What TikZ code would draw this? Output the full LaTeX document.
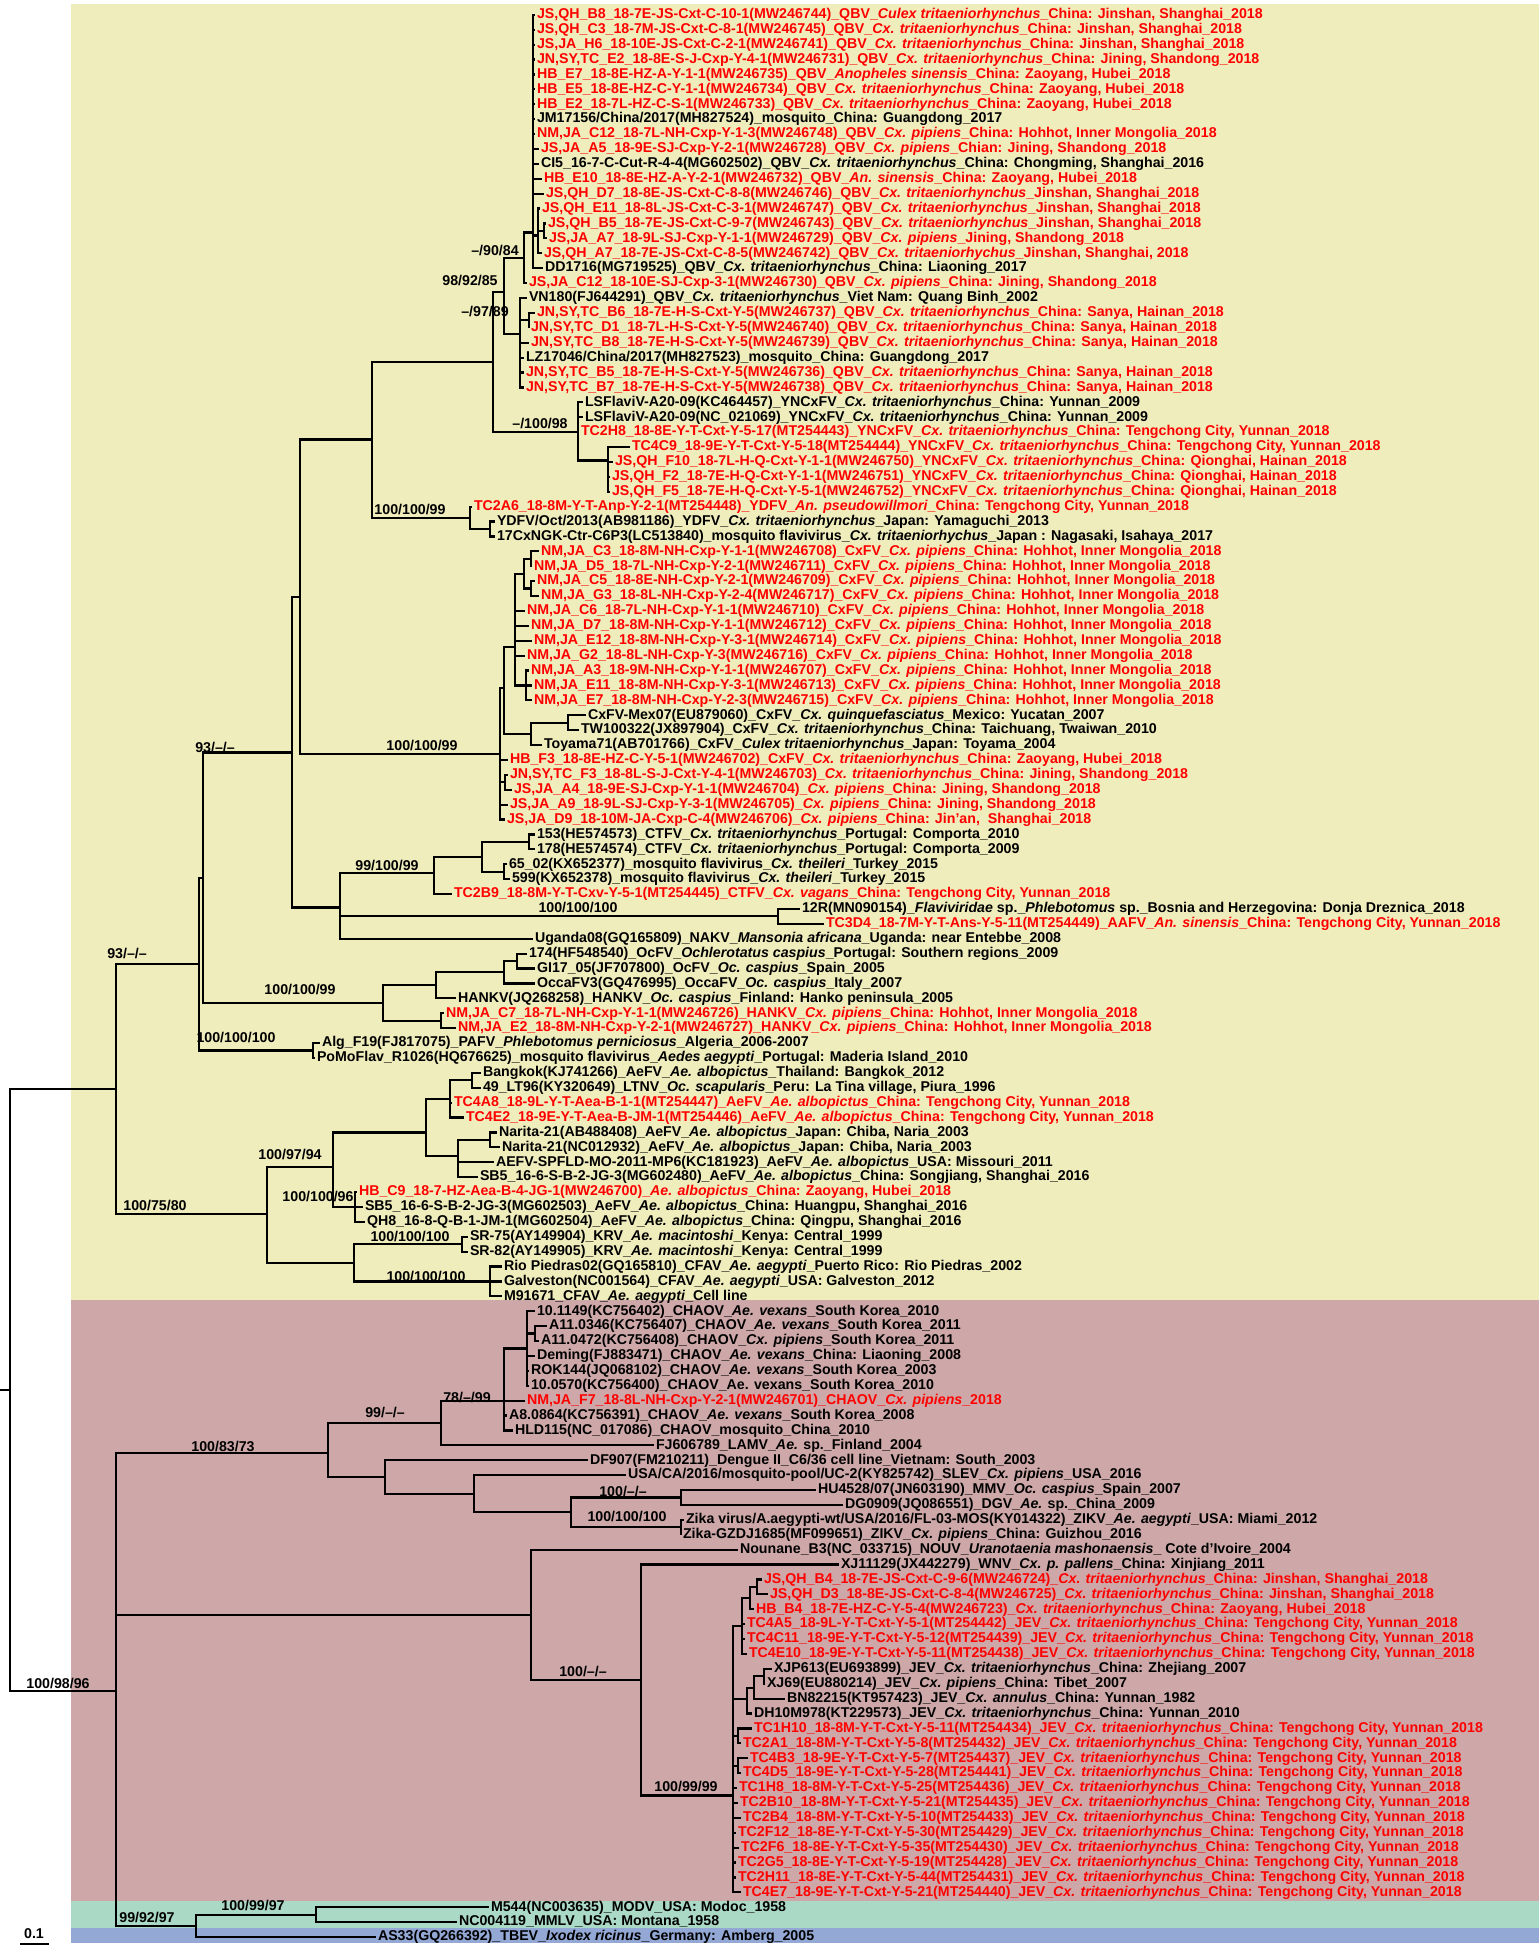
\documentclass[tikz,border=0pt]{standalone}
\usepackage{fontspec}
\setmainfont{Liberation Sans}
\definecolor{cladeY}{RGB}{240,237,189}
\definecolor{cladeP}{RGB}{206,168,168}
\definecolor{cladeG}{RGB}{170,218,198}
\definecolor{cladeB}{RGB}{148,168,214}
\definecolor{newred}{RGB}{255,0,0}
\newcommand\Ctri{\textit{Cx. tritaeniorhynchus}}
\newcommand\Cpip{\textit{Cx. pipiens}}
\newcommand\Aalb{\textit{Ae. albopictus}}
\newcommand\TCY{China: Tengchong City, Yunnan\_2018}
\newcommand\HIM{China: Hohhot, Inner Mongolia\_2018}
\tikzset{
  strain/.style={anchor=west,inner sep=0.8pt,text height=5.3pt,text depth=1.5pt,font=\fontsize{7.1}{8}\selectfont\bfseries},
  novel/.style={strain,text=newred},
  bs/.style={inner sep=0pt,font=\fontsize{7.1}{8}\selectfont\bfseries},
  br/.style={line width=1.1pt},
}
\begin{document}
\begin{tikzpicture}[x=0.5pt,y=-7.45pt]
\useasboundingbox (0,0) rectangle (1539,130.67);
\fill[cladeY] (71,0.28) rectangle (1539,87.25);
\fill[cladeP] (71,87.25) rectangle (1539,127.6);
\fill[cladeG] (71,127.6) rectangle (1539,129.4);
\fill[cladeB] (71,129.4) rectangle (1539,130.4);

\coordinate (rt0) at (0,93.3);
\coordinate (root) at (10,93.3);
\coordinate (A) at (116,73.1);
\coordinate (B) at (116,113.5);
\coordinate (A1) at (199,64.7);
\coordinate (A2) at (267,81.5);
\coordinate (U1) at (203,58.9);
\coordinate (pf) at (313,70.5);
\coordinate (U) at (292,50.5);
\coordinate (HK) at (383,67.3);
\coordinate (U2) at (300,40.05);
\coordinate (X) at (340,60.9);
\coordinate (V) at (372,29.5);
\coordinate (C0) at (500,50.6);
\coordinate (R) at (493,24.3);
\coordinate (YD) at (470,34.75);
\coordinate (Q) at (504,19.6);
\coordinate (yn) at (578,29);
\coordinate (Q1) at (524,17.3);
\coordinate (Q2) at (520,22.4);
\coordinate (Qa) at (533,15.6);
\coordinate (qt) at (538,15.8);
\coordinate (qs) at (544,15.5);
\coordinate (q21) at (529,21.5);
\coordinate (yn3) at (608,30.9);
\coordinate (ydp) at (490,35.5);
\coordinate (C1) at (504,46.2);
\coordinate (NMb) at (515,43.4);
\coordinate (NMa) at (524,38.5);
\coordinate (pr37) at (531,37.5);
\coordinate (pr39) at (531,39.5);
\coordinate (nm3) at (526,46);
\coordinate (MT) at (531,49.25);
\coordinate (pr48) at (568,48.5);
\coordinate (pr52) at (505,52.5);
\coordinate (ct) at (434,58.6);
\coordinate (ct1) at (482,57.5);
\coordinate (ct2) at (529,56.5);
\coordinate (ct3) at (504,58.5);
\coordinate (aa) at (778,61.5);
\coordinate (OH) at (436,66.1);
\coordinate (O2) at (504,65.25);
\coordinate (O1) at (517,64.5);
\coordinate (pr68) at (441,68.5);
\coordinate (ae) at (333,78.3);
\coordinate (ae1) at (426,76);
\coordinate (P1) at (450,73.75);
\coordinate (bl) at (472,72.5);
\coordinate (ae4) at (458,77.6);
\coordinate (nar) at (490,76.5);
\coordinate (q96) at (355,81);
\coordinate (KC) at (354,84.75);
\coordinate (sr) at (462,83.5);
\coordinate (cf) at (490,86);
\coordinate (P) at (328,97.5);
\coordinate (L) at (441,95.5);
\coordinate (ch) at (504,94);
\coordinate (c2) at (527,90.5);
\coordinate (c89) at (535,89.5);
\coordinate (D) at (385,99.1);
\coordinate (sl) at (474,100.25);
\coordinate (mz) at (571,101.5);
\coordinate (md) at (681,100.5);
\coordinate (zk) at (681,102.5);
\coordinate (nj) at (531,108.4);
\coordinate (j2) at (641,112.75);
\coordinate (jv) at (733,120.5);
\coordinate (jt) at (742,109.1);
\coordinate (jsb) at (750,107.25);
\coordinate (jsa) at (757,106.5);
\coordinate (xc) at (747,114);
\coordinate (xb) at (754,113.3);
\coordinate (xa) at (764,112.5);
\coordinate (p1) at (738,116.5);
\coordinate (p2) at (738,118.5);
\coordinate (gb) at (196,129.25);
\coordinate (gr) at (316,128.5);

\node[novel] (l1) at (535,1) {JS,QH\_B8\_18-7E-JS-Cxt-C-10-1(MW246744)\_QBV\_\textit{Culex tritaeniorhynchus}\_China: Jinshan, Shanghai\_2018};
\node[novel] (l2) at (535,2) {JS,QH\_C3\_18-7M-JS-Cxt-C-8-1(MW246745)\_QBV\_\Ctri\_China: Jinshan, Shanghai\_2018};
\node[novel] (l3) at (535,3) {JS,JA\_H6\_18-10E-JS-Cxt-C-2-1(MW246741)\_QBV\_\Ctri\_China: Jinshan, Shanghai\_2018};
\node[novel] (l4) at (535,4) {JN,SY,TC\_E2\_18-8E-S-J-Cxp-Y-4-1(MW246731)\_QBV\_\Ctri\_China: Jining, Shandong\_2018};
\node[novel] (l5) at (535,5) {HB\_E7\_18-8E-HZ-A-Y-1-1(MW246735)\_QBV\_\textit{Anopheles sinensis}\_China: Zaoyang, Hubei\_2018};
\node[novel] (l6) at (535,6) {HB\_E5\_18-8E-HZ-C-Y-1-1(MW246734)\_QBV\_\Ctri\_China: Zaoyang, Hubei\_2018};
\node[novel] (l7) at (535,7) {HB\_E2\_18-7L-HZ-C-S-1(MW246733)\_QBV\_\Ctri\_China: Zaoyang, Hubei\_2018};
\node[strain] (l8) at (535,8) {JM17156/China/2017(MH827524)\_mosquito\_China: Guangdong\_2017};
\node[novel] (l9) at (535,9) {NM,JA\_C12\_18-7L-NH-Cxp-Y-1-3(MW246748)\_QBV\_\Cpip\_China: Hohhot, Inner Mongolia\_2018};
\node[novel] (l10) at (539,10) {JS,JA\_A5\_18-9E-SJ-Cxp-Y-2-1(MW246728)\_QBV\_\Cpip\_Chian: Jining, Shandong\_2018};
\node[strain] (l11) at (539,11) {CI5\_16-7-C-Cut-R-4-4(MG602502)\_QBV\_\Ctri\_China: Chongming, Shanghai\_2016};
\node[novel] (l12) at (542,12) {HB\_E10\_18-8E-HZ-A-Y-2-1(MW246732)\_QBV\_\textit{An. sinensis}\_China: Zaoyang, Hubei\_2018};
\node[novel] (l13) at (544,13) {JS,QH\_D7\_18-8E-JS-Cxt-C-8-8(MW246746)\_QBV\_\Ctri\_Jinshan, Shanghai\_2018};
\node[novel] (l14) at (540,14) {JS,QH\_E11\_18-8L-JS-Cxt-C-3-1(MW246747)\_QBV\_\Ctri\_Jinshan, Shanghai\_2018};
\node[novel] (l15) at (546,15) {JS,QH\_B5\_18-7E-JS-Cxt-C-9-7(MW246743)\_QBV\_\Ctri\_Jinshan, Shanghai\_2018};
\node[novel] (l16) at (547,16) {JS,JA\_A7\_18-9L-SJ-Cxp-Y-1-1(MW246729)\_QBV\_\Cpip\_Jining, Shandong\_2018};
\node[novel] (l17) at (542,17) {JS,QH\_A7\_18-7E-JS-Cxt-C-8-5(MW246742)\_QBV\_\textit{Cx. tritaeniorhychus}\_Jinshan, Shanghai, 2018};
\node[strain] (l18) at (543,18) {DD1716(MG719525)\_QBV\_\Ctri\_China: Liaoning\_2017};
\node[novel] (l19) at (527,19) {JS,JA\_C12\_18-10E-SJ-Cxp-3-1(MW246730)\_QBV\_\Cpip\_China: Jining, Shandong\_2018};
\node[strain] (l20) at (527,20) {VN180(FJ644291)\_QBV\_\Ctri\_Viet Nam: Quang Binh\_2002};
\node[novel] (l21) at (535,21) {JN,SY,TC\_B6\_18-7E-H-S-Cxt-Y-5(MW246737)\_QBV\_\Ctri\_China: Sanya, Hainan\_2018};
\node[novel] (l22) at (529,22) {JN,SY,TC\_D1\_18-7L-H-S-Cxt-Y-5(MW246740)\_QBV\_\Ctri\_China: Sanya, Hainan\_2018};
\node[novel] (l23) at (529,23) {JN,SY,TC\_B8\_18-7E-H-S-Cxt-Y-5(MW246739)\_QBV\_\Ctri\_China: Sanya, Hainan\_2018};
\node[strain] (l24) at (524,24) {LZ17046/China/2017(MH827523)\_mosquito\_China: Guangdong\_2017};
\node[novel] (l25) at (524,25) {JN,SY,TC\_B5\_18-7E-H-S-Cxt-Y-5(MW246736)\_QBV\_\Ctri\_China: Sanya, Hainan\_2018};
\node[novel] (l26) at (524,26) {JN,SY,TC\_B7\_18-7E-H-S-Cxt-Y-5(MW246738)\_QBV\_\Ctri\_China: Sanya, Hainan\_2018};
\node[strain] (l27) at (583,27) {LSFlaviV-A20-09(KC464457)\_YNCxFV\_\Ctri\_China: Yunnan\_2009};
\node[strain] (l28) at (583,28) {LSFlaviV-A20-09(NC\_021069)\_YNCxFV\_\Ctri\_China: Yunnan\_2009};
\node[novel] (l29) at (579,29) {TC2H8\_18-8E-Y-T-Cxt-Y-5-17(MT254443)\_YNCxFV\_\Ctri\_\TCY};
\node[novel] (l30) at (630,30) {TC4C9\_18-9E-Y-T-Cxt-Y-5-18(MT254444)\_YNCxFV\_\Ctri\_\TCY};
\node[novel] (l31) at (613,31) {JS,QH\_F10\_18-7L-H-Q-Cxt-Y-1-1(MW246750)\_YNCxFV\_\Ctri\_China: Qionghai, Hainan\_2018};
\node[novel] (l32) at (610,32) {JS,QH\_F2\_18-7E-H-Q-Cxt-Y-1-1(MW246751)\_YNCxFV\_\Ctri\_China: Qionghai, Hainan\_2018};
\node[novel] (l33) at (610,33) {JS,QH\_F5\_18-7E-H-Q-Cxt-Y-5-1(MW246752)\_YNCxFV\_\Ctri\_China: Qionghai, Hainan\_2018};
\node[novel] (l34) at (472,34) {TC2A6\_18-8M-Y-T-Anp-Y-2-1(MT254448)\_YDFV\_\textit{An. pseudowillmori}\_\TCY};
\node[strain] (l35) at (495,35) {YDFV/Oct/2013(AB981186)\_YDFV\_\Ctri\_Japan: Yamaguchi\_2013};
\node[strain] (l36) at (495,36) {17CxNGK-Ctr-C6P3(LC513840)\_mosquito flavivirus\_\textit{Cx. tritaeniorhychus}\_Japan : Nagasaki, Isahaya\_2017};
\node[novel] (l37) at (539,37) {NM,JA\_C3\_18-8M-NH-Cxp-Y-1-1(MW246708)\_CxFV\_\Cpip\_\HIM};
\node[novel] (l38) at (532,38) {NM,JA\_D5\_18-7L-NH-Cxp-Y-2-1(MW246711)\_CxFV\_\Cpip\_\HIM};
\node[novel] (l39) at (535,39) {NM,JA\_C5\_18-8E-NH-Cxp-Y-2-1(MW246709)\_CxFV\_\Cpip\_\HIM};
\node[novel] (l40) at (539,40) {NM,JA\_G3\_18-8L-NH-Cxp-Y-2-4(MW246717)\_CxFV\_\Cpip\_\HIM};
\node[novel] (l41) at (525,41) {NM,JA\_C6\_18-7L-NH-Cxp-Y-1-1(MW246710)\_CxFV\_\Cpip\_\HIM};
\node[novel] (l42) at (529,42) {NM,JA\_D7\_18-8M-NH-Cxp-Y-1-1(MW246712)\_CxFV\_\Cpip\_\HIM};
\node[novel] (l43) at (532,43) {NM,JA\_E12\_18-8M-NH-Cxp-Y-3-1(MW246714)\_CxFV\_\Cpip\_\HIM};
\node[novel] (l44) at (525,44) {NM,JA\_G2\_18-8L-NH-Cxp-Y-3(MW246716)\_CxFV\_\Cpip\_\HIM};
\node[novel] (l45) at (529,45) {NM,JA\_A3\_18-9M-NH-Cxp-Y-1-1(MW246707)\_CxFV\_\Cpip\_\HIM};
\node[novel] (l46) at (532,46) {NM,JA\_E11\_18-8M-NH-Cxp-Y-3-1(MW246713)\_CxFV\_\Cpip\_\HIM};
\node[novel] (l47) at (532,47) {NM,JA\_E7\_18-8M-NH-Cxp-Y-2-3(MW246715)\_CxFV\_\Cpip\_\HIM};
\node[strain] (l48) at (586,48) {CxFV-Mex07(EU879060)\_CxFV\_\textit{Cx. quinquefasciatus}\_Mexico: Yucatan\_2007};
\node[strain] (l49) at (579,49) {TW100322(JX897904)\_CxFV\_\Ctri\_China: Taichuang, Twaiwan\_2010};
\node[strain] (l50) at (542,50) {Toyama71(AB701766)\_CxFV\_\textit{Culex tritaeniorhynchus}\_Japan: Toyama\_2004};
\node[novel] (l51) at (508,51) {HB\_F3\_18-8E-HZ-C-Y-5-1(MW246702)\_CxFV\_\Ctri\_China: Zaoyang, Hubei\_2018};
\node[novel] (l52) at (508,52) {JN,SY,TC\_F3\_18-8L-S-J-Cxt-Y-4-1(MW246703)\_\Ctri\_China: Jining, Shandong\_2018};
\node[novel] (l53) at (512,53) {JS,JA\_A4\_18-9E-SJ-Cxp-Y-1-1(MW246704)\_\Cpip\_China: Jining, Shandong\_2018};
\node[novel] (l54) at (508,54) {JS,JA\_A9\_18-9L-SJ-Cxp-Y-3-1(MW246705)\_\Cpip\_China: Jining, Shandong\_2018};
\node[novel] (l55) at (505,55) {JS,JA\_D9\_18-10M-JA-Cxp-C-4(MW246706)\_\Cpip\_China: Jin'an,\ \ Shanghai\_2018};
\node[strain] (l56) at (535,56) {153(HE574573)\_CTFV\_\Ctri\_Portugal: Comporta\_2010};
\node[strain] (l57) at (535,57) {178(HE574574)\_CTFV\_\Ctri\_Portugal: Comporta\_2009};
\node[strain] (l58) at (507,58) {65\_02(KX652377)\_mosquito flavivirus\_\textit{Cx. theileri}\_Turkey\_2015};
\node[strain] (l59) at (510,59) {599(KX652378)\_mosquito flavivirus\_\textit{Cx. theileri}\_Turkey\_2015};
\node[novel] (l60) at (452,60) {TC2B9\_18-8M-Y-T-Cxv-Y-5-1(MT254445)\_CTFV\_\textit{Cx. vagans}\_\TCY};
\node[strain] (l61) at (800,61) {12R(MN090154)\_\textit{Flaviviridae} sp.\_\textit{Phlebotomus} sp.\_Bosnia and Herzegovina: Donja Dreznica\_2018};
\node[novel] (l62) at (824,62) {TC3D4\_18-7M-Y-T-Ans-Y-5-11(MT254449)\_AAFV\_\textit{An. sinensis}\_\TCY};
\node[strain] (l63) at (533,63) {Uganda08(GQ165809)\_NAKV\_\textit{Mansonia africana}\_Uganda: near Entebbe\_2008};
\node[strain] (l64) at (527,64) {174(HF548540)\_OcFV\_\textit{Ochlerotatus caspius}\_Portugal: Southern regions\_2009};
\node[strain] (l65) at (535,65) {GI17\_05(JF707800)\_OcFV\_\textit{Oc. caspius}\_Spain\_2005};
\node[strain] (l66) at (535,66) {OccaFV3(GQ476995)\_OccaFV\_\textit{Oc. caspius}\_Italy\_2007};
\node[strain] (l67) at (456,67) {HANKV(JQ268258)\_HANKV\_\textit{Oc. caspius}\_Finland: Hanko peninsula\_2005};
\node[novel] (l68) at (444,68) {NM,JA\_C7\_18-7L-NH-Cxp-Y-1-1(MW246726)\_HANKV\_\Cpip\_\HIM};
\node[novel] (l69) at (456,69) {NM,JA\_E2\_18-8M-NH-Cxp-Y-2-1(MW246727)\_HANKV\_\Cpip\_\HIM};
\node[strain] (l70) at (320,70) {Alg\_F19(FJ817075)\_PAFV\_\textit{Phlebotomus perniciosus}\_Algeria\_2006-2007};
\node[strain] (l71) at (315,71) {PoMoFlav\_R1026(HQ676625)\_mosquito flavivirus\_\textit{Aedes aegypti}\_Portugal: Maderia Island\_2010};
\node[strain] (l72) at (481,72) {Bangkok(KJ741266)\_AeFV\_\Aalb\_Thailand: Bangkok\_2012};
\node[strain] (l73) at (481,73) {49\_LT96(KY320649)\_LTNV\_\textit{Oc. scapularis}\_Peru: La Tina village, Piura\_1996};
\node[novel] (l74) at (452,74) {TC4A8\_18-9L-Y-T-Aea-B-1-1(MT254447)\_AeFV\_\Aalb\_\TCY};
\node[novel] (l75) at (464,75) {TC4E2\_18-9E-Y-T-Aea-B-JM-1(MT254446)\_AeFV\_\Aalb\_\TCY};
\node[strain] (l76) at (497,76) {Narita-21(AB488408)\_AeFV\_\Aalb\_Japan: Chiba, Naria\_2003};
\node[strain] (l77) at (500,77) {Narita-21(NC012932)\_AeFV\_\Aalb\_Japan: Chiba, Naria\_2003};
\node[strain] (l78) at (494,78) {AEFV-SPFLD-MO-2011-MP6(KC181923)\_AeFV\_\Aalb\_USA: Missouri\_2011};
\node[strain] (l79) at (478,79) {SB5\_16-6-S-B-2-JG-3(MG602480)\_AeFV\_\Aalb\_China: Songjiang, Shanghai\_2016};
\node[novel] (l80) at (357,80) {HB\_C9\_18-7-HZ-Aea-B-4-JG-1(MW246700)\_\Aalb\_China: Zaoyang, Hubei\_2018};
\node[strain] (l81) at (363,81) {SB5\_16-6-S-B-2-JG-3(MG602503)\_AeFV\_\Aalb\_China: Huangpu, Shanghai\_2016};
\node[strain] (l82) at (365,82) {QH8\_16-8-Q-B-1-JM-1(MG602504)\_AeFV\_\Aalb\_China: Qingpu, Shanghai\_2016};
\node[strain] (l83) at (468,83) {SR-75(AY149904)\_KRV\_\textit{Ae. macintoshi}\_Kenya: Central\_1999};
\node[strain] (l84) at (468,84) {SR-82(AY149905)\_KRV\_\textit{Ae. macintoshi}\_Kenya: Central\_1999};
\node[strain] (l85) at (502,85) {Rio Piedras02(GQ165810)\_CFAV\_\textit{Ae. aegypti}\_Puerto Rico: Rio Piedras\_2002};
\node[strain] (l86) at (502,86) {Galveston(NC001564)\_CFAV\_\textit{Ae. aegypti}\_USA: Galveston\_2012};
\node[strain] (l87) at (502,87) {M91671\_CFAV\_\textit{Ae. aegypti}\_Cell line};
\node[strain] (l88) at (535,88) {10.1149(KC756402)\_CHAOV\_\textit{Ae. vexans}\_South Korea\_2010};
\node[strain] (l89) at (547,89) {A11.0346(KC756407)\_CHAOV\_\textit{Ae. vexans}\_South Korea\_2011};
\node[strain] (l90) at (539,90) {A11.0472(KC756408)\_CHAOV\_\Cpip\_South Korea\_2011};
\node[strain] (l91) at (535,91) {Deming(FJ883471)\_CHAOV\_\textit{Ae. vexans}\_China: Liaoning\_2008};
\node[strain] (l92) at (529,92) {ROK144(JQ068102)\_CHAOV\_\textit{Ae. vexans}\_South Korea\_2003};
\node[strain] (l93) at (529,93) {10.0570(KC756400)\_CHAOV\_Ae. vexans\_South Korea\_2010};
\node[novel] (l94) at (525,94) {NM,JA\_F7\_18-8L-NH-Cxp-Y-2-1(MW246701)\_CHAOV\_\Cpip\_2018};
\node[strain] (l95) at (507,95) {A8.0864(KC756391)\_CHAOV\_\textit{Ae. vexans}\_South Korea\_2008};
\node[strain] (l96) at (513,96) {HLD115(NC\_017086)\_CHAOV\_mosquito\_China\_2010};
\node[strain] (l97) at (654,97) {FJ606789\_LAMV\_\textit{Ae.} sp.\_Finland\_2004};
\node[strain] (l98) at (588,98) {DF907(FM210211)\_Dengue II\_C6/36 cell line\_Vietnam: South\_2003};
\node[strain] (l99) at (626,99) {USA/CA/2016/mosquito-pool/UC-2(KY825742)\_SLEV\_\Cpip\_USA\_2016};
\node[strain] (l100) at (816,100) {HU4528/07(JN603190)\_MMV\_\textit{Oc. caspius}\_Spain\_2007};
\node[strain] (l101) at (843,101) {DG0909(JQ086551)\_DGV\_\textit{Ae.} sp.\_China\_2009};
\node[strain] (l102) at (684,102) {Zika virus/A.aegypti-wt/USA/2016/FL-03-MOS(KY014322)\_ZIKV\_\textit{Ae. aegypti}\_USA: Miami\_2012};
\node[strain] (l103) at (681,103) {Zika-GZDJ1685(MF099651)\_ZIKV\_\Cpip\_China: Guizhou\_2016};
\node[strain] (l104) at (738,104) {Nounane\_B3(NC\_033715)\_NOUV\_\textit{Uranotaenia mashonaensis}\_ Cote d'Ivoire\_2004};
\node[strain] (l105) at (839,105) {XJ11129(JX442279)\_WNV\_\textit{Cx. p. pallens}\_China: Xinjiang\_2011};
\node[novel] (l106) at (762,106) {JS,QH\_B4\_18-7E-JS-Cxt-C-9-6(MW246724)\_\Ctri\_China: Jinshan, Shanghai\_2018};
\node[novel] (l107) at (768,107) {JS,QH\_D3\_18-8E-JS-Cxt-C-8-4(MW246725)\_\Ctri\_China: Jinshan, Shanghai\_2018};
\node[novel] (l108) at (754,108) {HB\_B4\_18-7E-HZ-C-Y-5-4(MW246723)\_\Ctri\_China: Zaoyang, Hubei\_2018};
\node[novel] (l109) at (745,109) {TC4A5\_18-9L-Y-T-Cxt-Y-5-1(MT254442)\_JEV\_\Ctri\_\TCY};
\node[novel] (l110) at (745,110) {TC4C11\_18-9E-Y-T-Cxt-Y-5-12(MT254439)\_JEV\_\Ctri\_\TCY};
\node[novel] (l111) at (747,111) {TC4E10\_18-9E-Y-T-Cxt-Y-5-11(MT254438)\_JEV\_\Ctri\_\TCY};
\node[strain] (l112) at (772,112) {XJP613(EU693899)\_JEV\_\Ctri\_China: Zhejiang\_2007};
\node[strain] (l113) at (765,113) {XJ69(EU880214)\_JEV\_\Cpip\_China: Tibet\_2007};
\node[strain] (l114) at (785,114) {BN82215(KT957423)\_JEV\_\textit{Cx. annulus}\_China: Yunnan\_1982};
\node[strain] (l115) at (752,115) {DH10M978(KT229573)\_JEV\_\Ctri\_China: Yunnan\_2010};
\node[novel] (l116) at (752,116) {TC1H10\_18-8M-Y-T-Cxt-Y-5-11(MT254434)\_JEV\_\Ctri\_\TCY};
\node[novel] (l117) at (741,117) {TC2A1\_18-8M-Y-T-Cxt-Y-5-8(MT254432)\_JEV\_\Ctri\_\TCY};
\node[novel] (l118) at (748,118) {TC4B3\_18-9E-Y-T-Cxt-Y-5-7(MT254437)\_JEV\_\Ctri\_\TCY};
\node[novel] (l119) at (741,119) {TC4D5\_18-9E-Y-T-Cxt-Y-5-28(MT254441)\_JEV\_\Ctri\_\TCY};
\node[novel] (l120) at (737,120) {TC1H8\_18-8M-Y-T-Cxt-Y-5-25(MT254436)\_JEV\_\Ctri\_\TCY};
\node[novel] (l121) at (738,121) {TC2B10\_18-8M-Y-T-Cxt-Y-5-21(MT254435)\_JEV\_\Ctri\_\TCY};
\node[novel] (l122) at (741,122) {TC2B4\_18-8M-Y-T-Cxt-Y-5-10(MT254433)\_JEV\_\Ctri\_\TCY};
\node[novel] (l123) at (736,123) {TC2F12\_18-8E-Y-T-Cxt-Y-5-30(MT254429)\_JEV\_\Ctri\_\TCY};
\node[novel] (l124) at (739,124) {TC2F6\_18-8E-Y-T-Cxt-Y-5-35(MT254430)\_JEV\_\Ctri\_\TCY};
\node[novel] (l125) at (736,125) {TC2G5\_18-8E-Y-T-Cxt-Y-5-19(MT254428)\_JEV\_\Ctri\_\TCY};
\node[novel] (l126) at (736,126) {TC2H11\_18-8E-Y-T-Cxt-Y-5-44(MT254431)\_JEV\_\Ctri\_\TCY};
\node[novel] (l127) at (741,127) {TC4E7\_18-9E-Y-T-Cxt-Y-5-21(MT254440)\_JEV\_\Ctri\_\TCY};
\node[strain] (l128) at (489,128) {M544(NC003635)\_MODV\_USA: Modoc\_1958};
\node[strain] (l129) at (457,129) {NC004119\_MMLV\_USA: Montana\_1958};
\node[strain] (l130) at (376,130) {AS33(GQ266392)\_TBEV\_\textit{Ixodex ricinus}\_Germany: Amberg\_2005};

\draw[br] (rt0) -- (root);
\foreach \c in {A,B} \draw[br] (root) |- (\c);
\foreach \c in {A1,A2} \draw[br] (A) |- (\c);
\foreach \c in {U1,pf} \draw[br] (A1) |- (\c);
\foreach \c in {U,HK} \draw[br] (U1) |- (\c);
\foreach \c in {U2,X} \draw[br] (U) |- (\c);
\foreach \c in {V,C0} \draw[br] (U2) |- (\c);
\foreach \c in {R,YD} \draw[br] (V) |- (\c);
\foreach \c in {Q,yn} \draw[br] (R) |- (\c);
\foreach \c in {Q1,Q2} \draw[br] (Q) |- (\c);
\foreach \c in {Qa,l19.west} \draw[br] (Q1) |- (\c);
\foreach \i in {1,...,13,18} \draw[br] (Qa) |- (l\i.west);
\draw[br] (Qa) |- (qt);
\foreach \c in {l14.west,qs,l17.west} \draw[br] (qt) |- (\c);
\foreach \i in {15,16} \draw[br] (qs) |- (l\i.west);
\foreach \c in {l20.west,q21,l23.west,l24.west,l25.west,l26.west} \draw[br] (Q2) |- (\c);
\foreach \i in {21,22} \draw[br] (q21) |- (l\i.west);
\foreach \c in {l27.west,l28.west,l29.west,yn3} \draw[br] (yn) |- (\c);
\foreach \i in {30,...,33} \draw[br] (yn3) |- (l\i.west);
\foreach \c in {l34.west,ydp} \draw[br] (YD) |- (\c);
\foreach \i in {35,36} \draw[br] (ydp) |- (l\i.west);
\foreach \c in {C1,l51.west,pr52,l54.west,l55.west} \draw[br] (C0) |- (\c);
\foreach \c in {NMb,MT} \draw[br] (C1) |- (\c);
\foreach \c in {NMa,l41.west,l42.west,l43.west,l44.west,nm3} \draw[br] (NMb) |- (\c);
\foreach \c in {pr37,pr39} \draw[br] (NMa) |- (\c);
\foreach \i in {37,38} \draw[br] (pr37) |- (l\i.west);
\foreach \i in {39,40} \draw[br] (pr39) |- (l\i.west);
\foreach \i in {45,46,47} \draw[br] (nm3) |- (l\i.west);
\foreach \c in {pr48,l50.west} \draw[br] (MT) |- (\c);
\foreach \i in {48,49} \draw[br] (pr48) |- (l\i.west);
\foreach \i in {52,53} \draw[br] (pr52) |- (l\i.west);
\foreach \c in {ct,aa,l63.west} \draw[br] (X) |- (\c);
\foreach \c in {ct1,l60.west} \draw[br] (ct) |- (\c);
\foreach \c in {ct2,ct3} \draw[br] (ct1) |- (\c);
\foreach \i in {56,57} \draw[br] (ct2) |- (l\i.west);
\foreach \i in {58,59} \draw[br] (ct3) |- (l\i.west);
\foreach \i in {61,62} \draw[br] (aa) |- (l\i.west);
\foreach \c in {OH,pr68} \draw[br] (HK) |- (\c);
\foreach \c in {O2,l67.west} \draw[br] (OH) |- (\c);
\foreach \c in {O1,l66.west} \draw[br] (O2) |- (\c);
\foreach \i in {64,65} \draw[br] (O1) |- (l\i.west);
\foreach \i in {68,69} \draw[br] (pr68) |- (l\i.west);
\foreach \i in {70,71} \draw[br] (pf) |- (l\i.west);
\foreach \c in {ae,KC} \draw[br] (A2) |- (\c);
\foreach \c in {ae1,q96} \draw[br] (ae) |- (\c);
\foreach \c in {P1,ae4} \draw[br] (ae1) |- (\c);
\foreach \c in {bl,l74.west,l75.west} \draw[br] (P1) |- (\c);
\foreach \i in {72,73} \draw[br] (bl) |- (l\i.west);
\foreach \c in {nar,l78.west,l79.west} \draw[br] (ae4) |- (\c);
\foreach \i in {76,77} \draw[br] (nar) |- (l\i.west);
\foreach \i in {80,81,82} \draw[br] (q96) |- (l\i.west);
\foreach \c in {sr,cf} \draw[br] (KC) |- (\c);
\foreach \i in {83,84} \draw[br] (sr) |- (l\i.west);
\foreach \i in {85,86,87} \draw[br] (cf) |- (l\i.west);
\foreach \c in {P,nj,gb} \draw[br] (B) |- (\c);
\foreach \c in {L,D} \draw[br] (P) |- (\c);
\foreach \c in {ch,l97.west} \draw[br] (L) |- (\c);
\foreach \c in {c2,l94.west,l95.west,l96.west} \draw[br] (ch) |- (\c);
\foreach \c in {l88.west,c89,l91.west,l92.west,l93.west} \draw[br] (c2) |- (\c);
\foreach \i in {89,90} \draw[br] (c89) |- (l\i.west);
\foreach \c in {l98.west,sl} \draw[br] (D) |- (\c);
\foreach \c in {l99.west,mz} \draw[br] (sl) |- (\c);
\foreach \c in {md,zk} \draw[br] (mz) |- (\c);
\foreach \i in {100,101} \draw[br] (md) |- (l\i.west);
\foreach \i in {102,103} \draw[br] (zk) |- (l\i.west);
\foreach \c in {l104.west,j2} \draw[br] (nj) |- (\c);
\foreach \c in {l105.west,jv} \draw[br] (j2) |- (\c);
\foreach \c in {jt,xc,p1,p2} \draw[br] (jv) |- (\c);
\foreach \i in {120,...,127} \draw[br] (jv) |- (l\i.west);
\foreach \c in {jsb,l109.west,l110.west,l111.west} \draw[br] (jt) |- (\c);
\foreach \c in {jsa,l108.west} \draw[br] (jsb) |- (\c);
\foreach \i in {106,107} \draw[br] (jsa) |- (l\i.west);
\foreach \c in {xb,l115.west} \draw[br] (xc) |- (\c);
\foreach \c in {xa,l114.west} \draw[br] (xb) |- (\c);
\foreach \i in {112,113} \draw[br] (xa) |- (l\i.west);
\foreach \i in {116,117} \draw[br] (p1) |- (l\i.west);
\foreach \i in {118,119} \draw[br] (p2) |- (l\i.west);
\foreach \c in {gr,l130.west} \draw[br] (gb) |- (\c);
\foreach \i in {128,129} \draw[br] (gr) |- (l\i.west);

\node[bs] (b-q1) at (495,16.8) {–/90/84};
\node[bs] (b-q) at (470,18.8) {98/92/85};
\node[bs] (b-q2) at (485,20.9) {–/97/89};
\node[bs] (b-yn) at (540,28.4) {–/100/98};
\node[bs] (b-yd) at (410,34.2) {100/100/99};
\node[bs] (b-c0) at (422,50) {100/100/99};
\node[bs] (b-u) at (215,50.2) {93/–/–};
\node[bs] (b-ct) at (387,58.1) {99/100/99};
\node[bs] (b-aa) at (578,60.9) {100/100/100};
\node[bs] (b-hk) at (300,66.4) {100/100/99};
\node[bs] (b-a1) at (127,64) {93/–/–};
\node[bs] (b-pf) at (236,69.6) {100/100/100};
\node[bs] (b-ae) at (290,77.5) {100/97/94};
\node[bs] (b-q96) at (318,80.3) {100/100/96};
\node[bs] (b-a2) at (155,80.9) {100/75/80};
\node[bs] (b-sr) at (410,83) {100/100/100};
\node[bs] (b-cf) at (426,85.7) {100/100/100};
\node[bs] (b-ch) at (467,93.8) {78/–/99};
\node[bs] (b-l) at (385,94.8) {99/–/–};
\node[bs] (b-p) at (223,97.1) {100/83/73};
\node[bs] (b-md) at (623,100.1) {100/–/–};
\node[bs] (b-zk) at (627,101.8) {100/100/100};
\node[bs] (b-j2) at (583,112.2) {100/–/–};
\node[bs] (b-jv) at (686,119.9) {100/99/99};
\node[bs] (b-b) at (58,113) {100/98/96};
\node[bs] (b-gb) at (147,128.7) {99/92/97};
\node[bs] (b-gr) at (253,127.9) {100/99/97};

\node[bs] (scale) at (34,129.8) {0.1};
\coordinate (sb0) at (20,130.45);
\coordinate (sb1) at (49,130.45);
\draw[br] (sb0) -- (sb1);
\end{tikzpicture}
\end{document}
